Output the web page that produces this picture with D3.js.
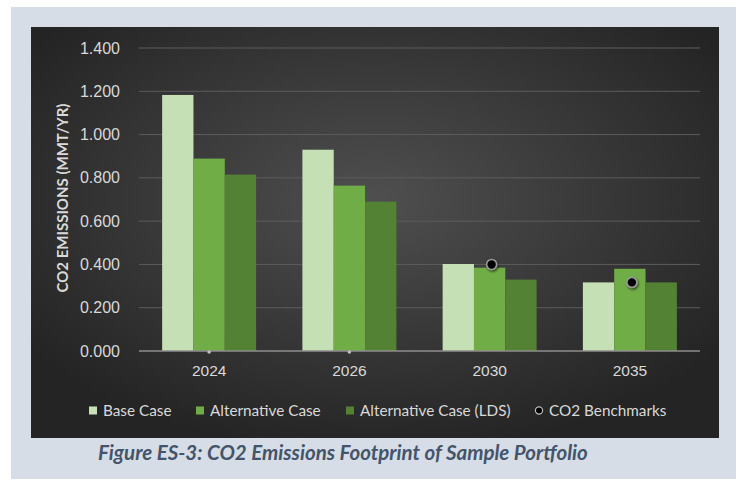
<!DOCTYPE html>
<html>
<head>
<meta charset="utf-8">
<script src="https://cdn.jsdelivr.net/npm/d3@7"></script>
<style>
  html, body { margin: 0; padding: 0; background: #ffffff; }
  svg { display: block; font-family: Lato, "Open Sans", sans-serif; }
</style>
</head>
<body>
<svg id="chart" width="746" height="485"></svg>
<script>
// Emissions by study year for each portfolio case (MMT/yr)
const years = ["2024", "2026", "2030", "2035"];
const seriesNames = ["Base Case", "Alternative Case", "Alternative Case (LDS)"];
const baseCase = [1.183, 0.930, 0.402, 0.317];
const alternativeCase = [0.889, 0.764, 0.385, 0.380];
const alternativeLDS = [0.815, 0.690, 0.330, 0.317];
const benchmarks = [0, 0, 0.400, 0.317];
const yTicks = [0, 0.2, 0.4, 0.6, 0.8, 1.0, 1.2, 1.4];
const colors = ["#c5e0b4", "#70ad47", "#548235"];
const captionText = "Figure ES-3: CO2 Emissions Footprint of Sample Portfolio";

const svg = d3.select("#chart");
const defs = svg.append("defs");

// Soft outer panel
svg.append("rect").attr("x", 11).attr("y", 7).attr("width", 725).attr("height", 472)
  .attr("fill", "#d6dde6");

// Dark chart area with a lighter centre
const grad = defs.append("radialGradient").attr("id", "bg")
  .attr("cx", "50%").attr("cy", "42%").attr("r", "62%");
grad.append("stop").attr("offset", "0%").attr("stop-color", "#4f4f4f");
grad.append("stop").attr("offset", "100%").attr("stop-color", "#242424");
svg.append("rect").attr("x", 31).attr("y", 27).attr("width", 688).attr("height", 411)
  .attr("fill", "url(#bg)");

// Drop shadow used by the benchmark markers
const sh = defs.append("filter").attr("id", "shadow").attr("x", "-50%").attr("y", "-50%")
  .attr("width", "200%").attr("height", "200%");
sh.append("feDropShadow").attr("dx", 1).attr("dy", 1.5).attr("stdDeviation", 1.2)
  .attr("flood-color", "#000").attr("flood-opacity", 0.6);

const plot = { left: 139, right: 700, top: 48, bottom: 351 };

const x0 = d3.scaleBand().domain(years).range([plot.left, plot.right])
  .paddingInner(0.33).paddingOuter(0.165);
const x1 = d3.scaleBand().domain(seriesNames).range([0, x0.bandwidth()]);
const y = d3.scaleLinear().domain([0, 1.4]).range([plot.bottom, plot.top]);

// Gridlines
svg.append("g").selectAll("line").data(yTicks.filter(d => d > 0)).join("line")
  .attr("x1", plot.left).attr("x2", plot.right)
  .attr("y1", d => y(d)).attr("y2", d => y(d))
  .attr("stroke", "#5c5c5c").attr("stroke-width", 1);

// Y axis labels
const yAxis = d3.axisLeft(y).tickValues(yTicks).tickFormat(d3.format(".3f")).tickSize(0).tickPadding(19);
const gy = svg.append("g").attr("transform", `translate(${plot.left},0)`).call(yAxis);
gy.select(".domain").remove();
gy.selectAll("text").attr("fill", "#d9d9d9").attr("font-size", 16);

// Y axis title
svg.append("text")
  .attr("transform", `translate(63,198) rotate(-90)`)
  .attr("text-anchor", "middle").attr("dy", "0.35em").attr("fill", "#d9d9d9")
  .attr("font-size", 15).attr("font-weight", "bold")
  .text("CO2 EMISSIONS (MMT/YR)");

// Bars
const table = years.map((yr, i) => ({
  year: yr,
  values: [baseCase[i], alternativeCase[i], alternativeLDS[i]]
}));
svg.append("g").selectAll("g").data(table).join("g")
  .attr("transform", d => `translate(${x0(d.year)},0)`)
  .selectAll("rect").data(d => d.values.map((v, k) => ({ name: seriesNames[k], v, k })))
  .join("rect")
  .attr("x", d => x1(d.name)).attr("width", x1.bandwidth())
  .attr("y", d => y(d.v)).attr("height", d => y(0) - y(d.v))
  .attr("fill", d => colors[d.k]);

// Category axis
const xAxis = d3.axisBottom(x0).tickSize(0).tickPadding(14);
const gx = svg.append("g").attr("transform", `translate(0,${plot.bottom})`).call(xAxis);
gx.select(".domain").attr("stroke", "#8e8e8e").attr("stroke-width", 1.5)
  .attr("d", `M${plot.left},0H${plot.right}`);
gx.selectAll("text").attr("fill", "#d9d9d9").attr("font-size", 15.5);

// Benchmark markers
const bx = yr => x0(yr) + x0.bandwidth() / 2;
svg.append("g").selectAll("circle").data(years.map((yr, i) => ({ yr, v: benchmarks[i] }))).join("circle")
  .attr("cx", d => bx(d.yr) + (d.v > 0 ? 2 : 0))
  .attr("cy", d => y(d.v) + (d.v > 0 ? 0 : 1))
  .attr("r", d => d.v > 0 ? 5 : 1.8)
  .attr("fill", d => d.v > 0 ? "#000" : "#bdbdbd")
  .attr("stroke", d => d.v > 0 ? "#9a9a9a" : "none")
  .attr("stroke-width", 1.6)
  .attr("filter", d => d.v > 0 ? "url(#shadow)" : null);

// Legend
const legendItems = [
  { label: seriesNames[0], type: "rect", color: colors[0], x: 89 },
  { label: seriesNames[1], type: "rect", color: colors[1], x: 196 },
  { label: seriesNames[2], type: "rect", color: colors[2], x: 346 },
  { label: "CO2 Benchmarks", type: "dot", x: 535 }
];
const ly = 411;
const lg = svg.append("g").selectAll("g").data(legendItems).join("g")
  .attr("transform", d => `translate(${d.x},${ly})`);
lg.filter(d => d.type === "rect").append("rect")
  .attr("x", 0).attr("y", -4.5).attr("width", 8).attr("height", 8)
  .attr("fill", d => d.color);
lg.filter(d => d.type === "dot").append("circle")
  .attr("cx", 4).attr("cy", -0.5).attr("r", 3.6)
  .attr("fill", "#000").attr("stroke", "#bbb").attr("stroke-width", 1.2);
lg.append("text").attr("x", 14).attr("y", 0).attr("dy", "0.35em")
  .attr("fill", "#d9d9d9").attr("font-size", 15.3)
  .text(d => d.label);

// Caption
svg.append("text").attr("x", 98).attr("y", 460)
  .attr("fill", "#44546a").attr("font-size", 20.5)
  .attr("font-weight", "bold").attr("font-style", "italic")
  .text(captionText);
</script>
</body>
</html>
